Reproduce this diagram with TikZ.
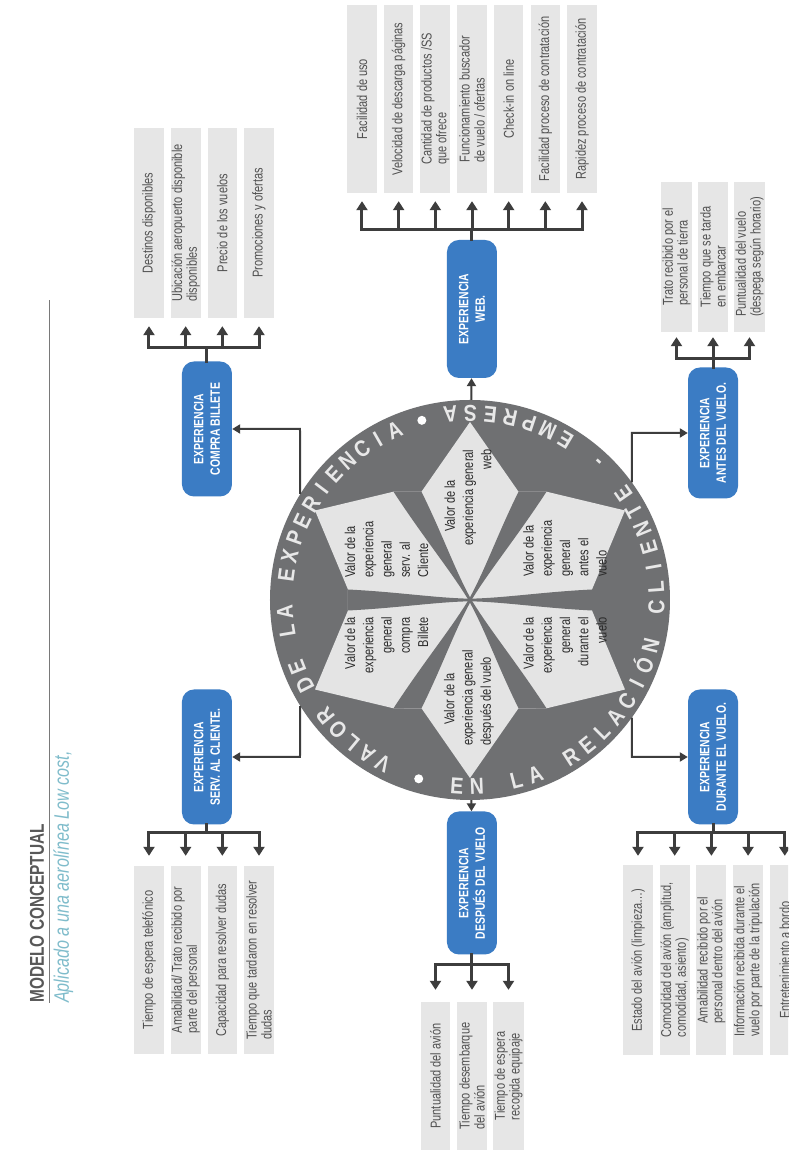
\documentclass[tikz,border=0pt]{standalone}
\usepackage{fontspec}
\setmainfont{Liberation Sans}
\newfontfamily\cond{Liberation Sans}[FakeStretch=0.85]
\newfontfamily\narrow{Liberation Sans}[FakeStretch=0.77]
\usetikzlibrary{arrows.meta}

\definecolor{ringgrey}{HTML}{6F7072}
\definecolor{stargrey}{HTML}{E4E4E4}
\definecolor{itemgrey}{HTML}{E6E6E6}
\definecolor{expblue}{HTML}{3B7CC4}
\definecolor{linegrey}{HTML}{3D3D3D}
\definecolor{itemtext}{HTML}{505050}
\definecolor{lobetext}{HTML}{2A2A2A}
\definecolor{ringtext}{HTML}{E8E8E8}
\definecolor{subteal}{HTML}{7FBCCB}
\definecolor{titlegrey}{HTML}{585858}

\begin{document}
\begin{tikzpicture}[x=1pt, y=1pt, rotate=90, transform shape,
  expbox/.style={rectangle, rounded corners=12pt, fill=expblue, minimum width=135pt,
    minimum height=50pt, text=white, align=center, inner sep=2pt,
    font=\narrow\bfseries\fontsize{13.5}{16.5}\selectfont},
  item/.style={rectangle, fill=itemgrey, minimum height=29.5pt, text=itemtext,
    align=left, inner sep=1pt, font=\narrow\fontsize{14.3}{14.8}\selectfont},
  lobe/.style={text=lobetext, inner sep=0pt, font=\narrow\fontsize{14.3}{18.2}\selectfont},
  ringtxt/.style={text=ringtext, inner sep=0pt, anchor=base,
    font=\cond\bfseries\fontsize{23}{23}\selectfont},
  bracket/.style={draw=linegrey, line width=3pt, line cap=rect},
  arr/.style={draw=linegrey, line width=3pt, -{Triangle[length=9pt,width=11pt]}},
  conn/.style={draw=linegrey, line width=2pt, -{Triangle[length=8pt,width=9pt]}},
]
\useasboundingbox (0,0) rectangle (1153,788);
\fill[white] (0,0) rectangle (1153,788);
\clip (0,0) rectangle (1153,788);

% ---- title ----
\node[anchor=base west, inner sep=0pt, text=titlegrey,
  font=\narrow\bfseries\fontsize{20}{20}\selectfont] (title) at (150,744) {MODELO CONCEPTUAL};
\draw[titlegrey!80, line width=1pt] (150,738) -- (853,738);
\node[anchor=base west, inner sep=0pt, text=subteal,
  font=\narrow\itshape\fontsize{21}{21}\selectfont] (subtitle) at (150,719) {Aplicado a una aerolínea Low cost,};

% ---- central wheel ----
\node[circle, fill=ringgrey, minimum size=400pt, inner sep=0pt] (ring) at (553,318) {};
\begin{scope}[shift={(553,318)}]
  % light six-pointed field
  \fill[stargrey] (178,0) -- (108.3,48.5) -- (108.3,76.5) -- (89.5,155)
    -- (10.5,122) -- (-10.5,122) -- (-89.5,155)
    -- (-108.3,76.5) -- (-108.3,48.5) -- (-178,0)
    -- (-108.3,-48.5) -- (-108.3,-76.5) -- (-89.5,-155)
    -- (-10.5,-122) -- (10.5,-122) -- (89.5,-155)
    -- (108.3,-76.5) -- (108.3,-48.5) -- cycle;
  % dark flared spokes between the petals
  \foreach \d in {30,210} {
    \fill[ringgrey, rotate=\d] (0,-1.3) .. controls (35,-2) and (70,-9) .. (118,-12.1)
      -- (132,12.1) .. controls (76,9) and (35,2) .. (0,1.3) -- cycle;
  }
  \foreach \d in {150,330} {
    \fill[ringgrey, rotate=\d] (0,-1.3) .. controls (35,-2) and (76,-9) .. (132,-12.1)
      -- (118,12.1) .. controls (70,9) and (35,2) .. (0,1.3) -- cycle;
  }
  \foreach \d in {90,270} {
    \fill[ringgrey, rotate=\d] (0,-1.3) .. controls (35,-2) and (72,-8) .. (122,-10.5)
      -- (122,10.5) .. controls (72,8) and (35,2) .. (0,1.3) -- cycle;
  }
  % lettering round the rim
  \foreach \ch [count=\i] in {V,A,L,O,R,{},D,E,{},L,A,{},E,X,P,E,R,I,E,N,C,I,A} {
    \pgfmathsetmacro\ang{152-(\i-1)*5.82}
    \node[ringtxt, rotate=\ang-90] (rt\i) at (\ang:177.5) {\ch};
  }
  \foreach \ch [count=\i] in {E,N,{},L,A,{},R,E,L,A,C,I,Ó,N,{},C,L,I,E,N,T,E,{},-,{},E,M,P,R,E,S,A} {
    \pgfmathsetmacro\ang{176+(\i-1)*6.13}
    \node[ringtxt, rotate=\ang+90] (rb\i) at (\ang:194.5) {\ch};
  }
  \fill[white] (164:186) circle (4.5);
  \fill[white] (15:186) circle (4.5);
\end{scope}

% ---- petal captions ----
\node[lobe, align=left, anchor=west] (lweb) at (607,320) {\hspace*{14pt}Valor de la\\experiencia general\\\hfill web};
\node[lobe, align=left, anchor=west] (lserv) at (575,401.5) {Valor de la\\experiencia\\general\\serv. al\\Cliente};
\node[lobe, align=right, anchor=east] (lcompra) at (536,401.5) {Valor de la\\experiencia\\general\\compra\\Billete};
\node[lobe, align=left, anchor=west] (ldespues) at (407,319) {\hspace*{21pt}Valor de la\\experiencia general\\después del vuelo};
\node[lobe, align=right, anchor=east] (ldurante) at (536,223) {Valor de la\\experiencia\\general\\durante el\\vuelo};
\node[lobe, align=left, anchor=west] (lantes) at (576,223) {Valor de la\\experiencia\\general\\antes el\\vuelo};

% ---- experience boxes ----
\node[expbox, minimum width=138pt] (web) at (844,316) {EXPERIENCIA\\WEB.};
\node[expbox] (compra) at (724,581) {EXPERIENCIA\\COMPRA BILLETE};
\node[expbox] (serv) at (396,581) {EXPERIENCIA\\SERV. AL CLIENTE.};
\node[expbox, minimum width=143pt] (despues) at (270,316) {EXPERIENCIA\\DESPUÉS DEL VUELO};
\node[expbox] (durante) at (396,75) {EXPERIENCIA\\DURANTE EL VUELO.};
\node[expbox, minimum width=131pt] (antes) at (720,75) {EXPERIENCIA\\ANTES DEL VUELO.};

% ---- wheel to experience boxes ----
\draw[conn] (ring) -- (web);
\draw[conn] (ring) -- (despues);
\coordinate (kc) at (724,488);
\draw[conn] (ring.58) -- (kc) -- (compra);
\coordinate (ks) at (396,488);
\draw[conn] (ring.122) -- (ks) -- (serv);
\coordinate (ka) at (720,156);
\draw[conn] (ring.-54) -- (ka) -- (antes);
\coordinate (kd) at (396,156);
\draw[conn] (ring.-126) -- (kd) -- (durante);

% ---- web items ----
\coordinate (wj) at (923,316);
\draw[bracket] (web) -- (wj);
\foreach \lbl [count=\i] in {Facilidad de uso, Velocidad de descarga páginas,
    {Cantidad de productos /SS\\que ofrece}, {Funcionamiento buscador\\de vuelo / ofertas},
    Check-in on line, Facilidad proceso de contratación, Rapidez proceso de contratación} {
  \pgfmathsetmacro\yy{426-(\i-1)*36.67}
  \node[item, minimum width=188pt] (w\i) at (1054,\yy) {\lbl};
  \coordinate (wa\i) at (923,\yy);
  \draw[arr, shorten >=8pt] (wa\i) -- (w\i);
}
\draw[bracket] (wa1) -- (wa7);

% ---- ticket purchase items ----
\coordinate (cj) at (805,581);
\draw[bracket] (compra) -- (cj);
\foreach \lbl [count=\i] in {Destinos disponibles, {Ubicación aeropuerto disponible\\disponibles},
    Precio de los vuelos, Promociones y ofertas} {
  \pgfmathsetmacro\yy{639-(\i-1)*36.67}
  \node[item, minimum width=190pt] (c\i) at (930,\yy) {\lbl};
  \coordinate (ca\i) at (805,\yy);
  \draw[arr, shorten >=8pt] (ca\i) -- (c\i);
}
\draw[bracket] (ca1) -- (ca4);

% ---- customer service items ----
\coordinate (sj) at (320,581);
\draw[bracket] (serv) -- (sj);
\foreach \lbl [count=\i] in {Tiempo de espera telefónico, {Amabilidad/ Trato recibido por\\parte del personal},
    Capacidad para resolver dudas, {Tiempo que tardaron en resolver\\dudas}} {
  \pgfmathsetmacro\yy{639-(\i-1)*36.67}
  \node[item, minimum width=188pt] (s\i) at (193,\yy) {\lbl};
  \coordinate (sa\i) at (320,\yy);
  \draw[arr, shorten >=10pt] (sa\i) -- (s\i);
}
\draw[bracket] (sa1) -- (sa4);

% ---- after the flight items ----
\coordinate (pj) at (188,316);
\draw[bracket] (despues) -- (pj);
\foreach \lbl [count=\i] in {Puntualidad del avión, {Tiempo desembarque\\del avión},
    {Tiempo de espera\\recogida equipaje}} {
  \pgfmathsetmacro\yy{352.5-(\i-1)*36.5}
  \node[item, minimum width=148pt] (p\i) at (77,\yy) {\lbl};
  \coordinate (pa\i) at (188,\yy);
  \draw[arr, shorten >=12pt] (pa\i) -- (p\i);
}
\draw[bracket] (pa1) -- (pa3);

% ---- before the flight items ----
\coordinate (aj) at (794,75);
\draw[bracket] (antes) -- (aj);
\foreach \lbl [count=\i] in {{Trato recibido por el\\personal de tierra}, {Tiempo que se tarda\\en embarcar},
    {Puntualidad del vuelo\\(despega según horario)}} {
  \pgfmathsetmacro\yy{111.5-(\i-1)*36.5}
  \node[item, minimum width=150pt] (a\i) at (896,\yy) {\lbl};
  \coordinate (aa\i) at (794,\yy);
  \draw[arr, shorten >=5pt] (aa\i) -- (a\i);
}
\draw[bracket] (aa1) -- (aa3);

% ---- during the flight items ----
\coordinate (dj) at (320,75);
\draw[bracket] (durante) -- (dj);
\foreach \lbl [count=\i] in {{Estado del avión (limpieza\ldots)}, {Comodidad del avión (amplitud,\\comodidad, asiento)},
    {Amabilidad recibido por el\\personal dentro del avión},
    {Información recibida durante el\\vuelo por parte de la tripulación}, Entretenimiento a bordo} {
  \pgfmathsetmacro\yy{150-(\i-1)*36.7}
  \node[item, minimum width=190pt] (d\i) at (193,\yy) {\lbl};
  \coordinate (da\i) at (320,\yy);
  \draw[arr, shorten >=9pt] (da\i) -- (d\i);
}
\draw[bracket] (da1) -- (da5);
\end{tikzpicture}
\end{document}
